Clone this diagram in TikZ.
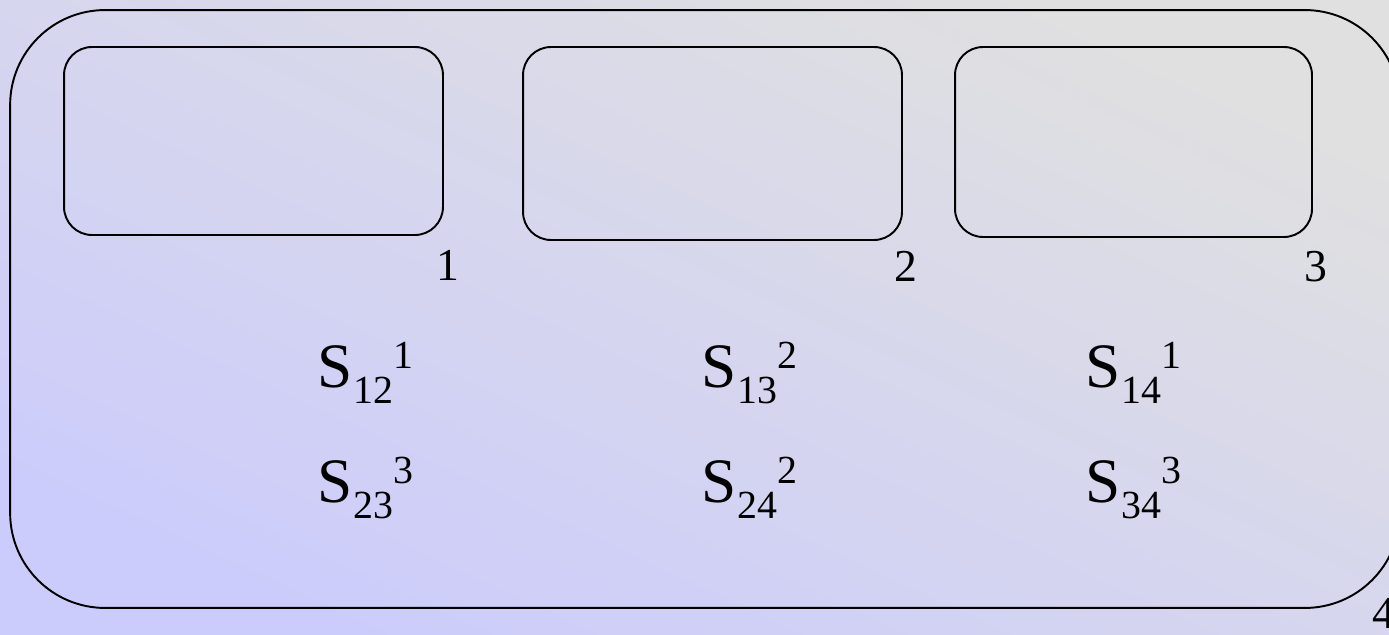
\documentclass[tikz,border=0pt]{standalone}
\usepackage{fontspec}
\setmainfont{Liberation Serif}
\usepackage{xcolor}
\usepackage{tikz}

\definecolor{bglav}{RGB}{204,204,252}
\definecolor{bggrey}{RGB}{224,224,224}

% S with sub- and superscript set side by side
\newcommand{\sname}[2]{S\raisebox{-9.6pt}{\fontsize{22.7}{22.7}\selectfont #1}\raisebox{10.8pt}{\fontsize{22.7}{22.7}\selectfont #2}}

\begin{document}
\begin{tikzpicture}[
    x=0.02cm, y=-0.02cm,
    line width=1.1pt,
    frame/.style={rectangle, draw, rounded corners=1.9cm, inner sep=0pt},
    slot/.style={rectangle, draw, rounded corners=0.56cm, inner sep=0pt},
    tag/.style={anchor=base, inner sep=0pt, font=\fontsize{26}{26}\selectfont},
    sterm/.style={anchor=base west, inner sep=0pt, font=\fontsize{36}{36}\selectfont},
]
    \useasboundingbox (0,0) rectangle (1389,635);
    \clip (0,0) rectangle (1389,635);
    \shade[bottom color=bglav, middle color=bggrey!80!bglav, top color=bggrey, shading angle=-25]
        (0,0) rectangle (1389,635);

    % outer region
    \node[frame, minimum width=27.8cm, minimum height=11.96cm] (outer) at (705,309) {};
    \node[tag] (lab4) at (1384,628) {4};

    % three inner regions
    \node[slot, minimum width=7.58cm, minimum height=3.76cm] (box1) at (253.5,141) {};
    \node[slot, minimum width=7.58cm, minimum height=3.86cm] (box2) at (712.5,143.5) {};
    \node[slot, minimum width=7.14cm, minimum height=3.8cm] (box3) at (1133.5,142) {};

    \node[tag] (lab1) at (448,280) {1};
    \node[tag] (lab2) at (906,281) {2};
    \node[tag] (lab3) at (1316,281) {3};

    % terms
    \node[sterm] (s12) at (317,387) {\sname{12}{1}};
    \node[sterm] (s13) at (701,387) {\sname{13}{2}};
    \node[sterm] (s14) at (1085,387) {\sname{14}{1}};
    \node[sterm] (s23) at (317,502) {\sname{23}{3}};
    \node[sterm] (s24) at (701,502) {\sname{24}{2}};
    \node[sterm] (s34) at (1085,502) {\sname{34}{3}};
\end{tikzpicture}
\end{document}
